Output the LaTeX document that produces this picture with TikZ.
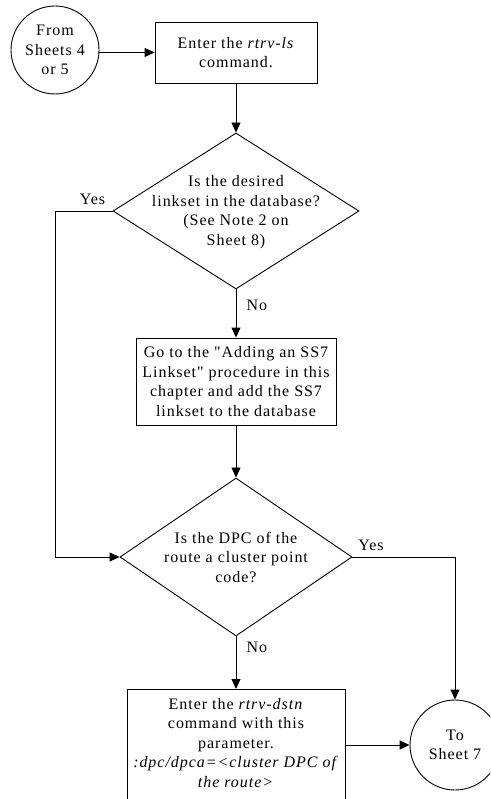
\documentclass[tikz,border=0pt]{standalone}
\usepackage{fontspec}
\setmainfont{Liberation Serif}[LetterSpace=6,Ligatures=TeXOff]
\usetikzlibrary{shapes.geometric,arrows.meta}
\begin{document}
\begin{tikzpicture}[x=1pt,y=-1pt,
  txt/.style={font=\fontsize{16}{19.5}\selectfont, align=center, inner sep=0pt},
  proc/.style={draw, rectangle, line width=0.9pt, inner sep=0pt, txt},
  dia/.style={draw, diamond, line width=0.9pt, inner sep=0pt},
  circ/.style={draw, circle, line width=0.9pt, inner sep=0pt, txt},
  lbl/.style={font=\fontsize{16}{19.5}\selectfont, inner sep=0pt},
  conn/.style={line width=0.9pt},
  arr/.style={conn, -{Triangle[length=10pt,width=9pt]}}]
\useasboundingbox (0,0) rectangle (490,799);
\clip (0,0) rectangle (490,799);

\node[circ, minimum size=88pt] (c1) at (55,50) {From\\Sheets 4\\or 5};
\node[proc, minimum width=162pt, minimum height=61pt] (b1) at (236,52.5) {Enter the \textit{rtrv-ls}\\command.};
\node[dia, minimum width=246pt, minimum height=156pt] (d1) at (236,211) {};
\node[txt] (d1t) at (236,212) {Is the desired\\linkset in the database?\\(See Note 2 on\\Sheet 8)};
\node[proc, minimum width=200pt, minimum height=87pt] (b2) at (236,381.5) {Go to the "Adding an SS7\\Linkset" procedure in this\\chapter and add the SS7\\linkset to the database};
\node[dia, minimum width=232pt, minimum height=158pt] (d2) at (236,557) {};
\node[txt] (d2t) at (236,557) {Is the DPC of the\\route a cluster point\\code?};
\node[draw, rectangle, line width=0.9pt, minimum width=218pt, minimum height=140pt, anchor=north] (b3) at (236,689) {};
\node[txt] (b3t) at (236,743) {Enter the \textit{rtrv-dstn}\\command with this\\parameter.\\\textit{:dpc/dpca=<cluster DPC of}\\\textit{the route>}};
\node[circ, minimum size=90pt] (c2) at (455,745) {To\\Sheet 7};

\coordinate (yl) at (55,211);

\draw[arr] (c1.east |- b1.west) -- (b1.west);
\draw[arr] (b1) -- (d1);
\draw[arr] (d1) -- (b2);
\node[lbl] (no1) at (257,305) {No};
\draw[arr] (d1.west) -- (yl) |- (d2.west);
\node[lbl] (yes1) at (92.5,199) {Yes};
\draw[arr] (b2) -- (d2);
\draw[arr] (d2.east) -| (c2.north);
\node[lbl] (yes2) at (371,545) {Yes};
\draw[arr] (d2) -- (b3);
\node[lbl] (no2) at (257,647) {No};
\draw[arr] (b3.east |- c2.west) -- (c2.west);
\end{tikzpicture}
\end{document}
